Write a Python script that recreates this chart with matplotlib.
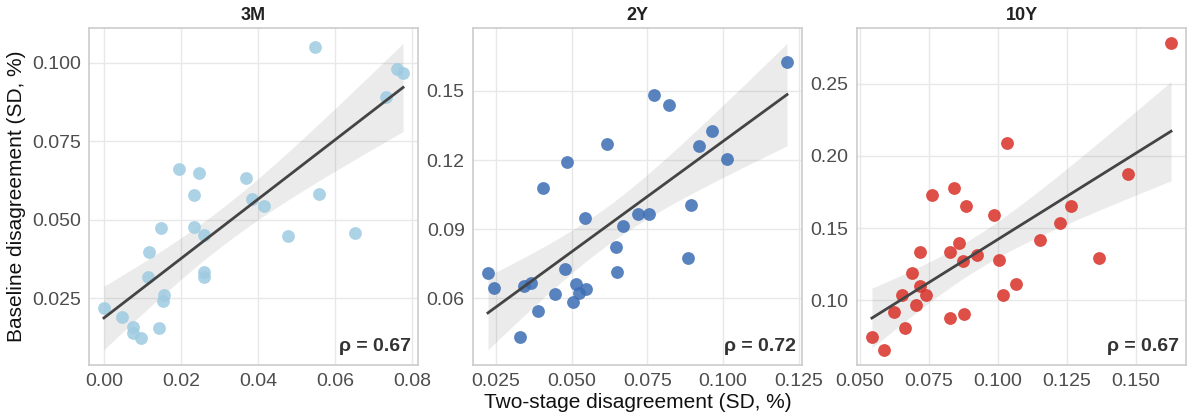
import numpy as np
import matplotlib.pyplot as plt
from matplotlib.ticker import MultipleLocator, FormatStrFormatter

# --- data ---
x_3m = [0.0000, 0.0048, 0.0075, 0.0075, 0.0097, 0.0118, 0.0115, 0.0147, 0.0144, 0.0156,
        0.0153, 0.0196, 0.0248, 0.0233, 0.0235, 0.0261, 0.0259, 0.0260, 0.0368, 0.0384,
        0.0415, 0.0478, 0.0547, 0.0559, 0.0651, 0.0732, 0.0760, 0.0777]
y_3m = [0.0220, 0.0191, 0.0157, 0.0138, 0.0125, 0.0398, 0.0319, 0.0473, 0.0156, 0.0260,
        0.0240, 0.0661, 0.0649, 0.0580, 0.0478, 0.0451, 0.0334, 0.0319, 0.0634, 0.0565,
        0.0545, 0.0450, 0.1050, 0.0583, 0.0457, 0.0891, 0.0982, 0.0969]

x_2y = [0.0224, 0.0243, 0.0331, 0.0344, 0.0365, 0.0389, 0.0406, 0.0445, 0.0478, 0.0484,
        0.0504, 0.0514, 0.0524, 0.0547, 0.0544, 0.0616, 0.0648, 0.0650, 0.0671, 0.0718,
        0.0756, 0.0772, 0.0821, 0.0885, 0.0893, 0.0921, 0.0962, 0.1014, 0.1211]
y_2y = [0.0709, 0.0645, 0.0434, 0.0652, 0.0665, 0.0545, 0.1077, 0.0619, 0.0728, 0.1191,
        0.0584, 0.0662, 0.0625, 0.0642, 0.0949, 0.1271, 0.0823, 0.0714, 0.0914, 0.0967,
        0.0967, 0.1480, 0.1440, 0.0774, 0.1003, 0.1261, 0.1327, 0.1206, 0.1625]

x_10y = [0.0545, 0.0588, 0.0625, 0.0655, 0.0666, 0.0690, 0.0703, 0.0719, 0.0719, 0.0740,
         0.0761, 0.0826, 0.0826, 0.0842, 0.0858, 0.0875, 0.0877, 0.0884, 0.0923, 0.0987,
         0.1005, 0.1020, 0.1034, 0.1064, 0.1153, 0.1223, 0.1263, 0.1364, 0.1472, 0.1626]
y_10y = [0.0745, 0.0657, 0.0915, 0.1039, 0.0807, 0.1191, 0.0968, 0.1331, 0.1099, 0.1039,
         0.1727, 0.1333, 0.0874, 0.1775, 0.1398, 0.1271, 0.0903, 0.1651, 0.1315, 0.1591,
         0.1278, 0.1035, 0.2090, 0.1110, 0.1416, 0.1533, 0.1656, 0.1290, 0.1872, 0.2781]

titles = ["3M", "2Y", "10Y"]
rho_labels = ["ρ = 0.67", "ρ = 0.72", "ρ = 0.67"]
colors = ["#9ecae1", "#3c6db4", "#d73027"]

plt.rcParams['font.family'] = ['Liberation Sans', 'DejaVu Sans']

fig = plt.figure(figsize=(11.89, 4.18), dpi=100)
lefts = [89, 473, 857]
panels = [(x_3m, y_3m), (x_2y, y_2y), (x_10y, y_10y)]
xsteps = [0.02, 0.025, 0.025]
ysteps = [0.025, 0.03, 0.05]
xfmt = ["%.2f", "%.3f", "%.3f"]
yfmt = ["%.3f", "%.2f", "%.2f"]

for i, (xs, ys) in enumerate(panels):
    ax = fig.add_axes([lefts[i] / 1189, 53 / 418, 329 / 1189, 337 / 418])
    x = np.array(xs)
    y = np.array(ys)

    # linear fit + 95% CI of the mean
    n = len(x)
    b, a = np.polyfit(x, y, 1)
    xg = np.linspace(x.min(), x.max(), 100)
    yg = a + b * xg
    resid = y - (a + b * x)
    s = np.sqrt(np.sum(resid ** 2) / (n - 2))
    se = s * np.sqrt(1 / n + (xg - x.mean()) ** 2 / np.sum((x - x.mean()) ** 2))
    t = 2.05
    ax.fill_between(xg, yg - t * se, yg + t * se, color="#444444", alpha=0.1, lw=0, zorder=1)
    ax.scatter(x, y, s=85, color=colors[i], alpha=0.85, lw=0, zorder=3)
    ax.plot(xg, yg, color="#444444", lw=2, zorder=4)

    ax.set_facecolor("white")
    ax.grid(True, color="#e8e8e8", lw=1, zorder=0)
    ax.set_axisbelow(True)
    for sp in ax.spines.values():
        sp.set_color("#cccccc")
        sp.set_linewidth(1.2)
    ax.xaxis.set_major_locator(MultipleLocator(xsteps[i]))
    ax.yaxis.set_major_locator(MultipleLocator(ysteps[i]))
    ax.xaxis.set_major_formatter(FormatStrFormatter(xfmt[i]))
    ax.yaxis.set_major_formatter(FormatStrFormatter(yfmt[i]))
    ax.tick_params(length=0, labelsize=14, labelcolor="#4d4d4d", pad=6)
    ax.set_title(titles[i], fontsize=13, fontweight="bold", color="#222222", pad=6)
    ax.text(0.98, 0.03, rho_labels[i], transform=ax.transAxes, ha="right", va="bottom",
            fontsize=14, fontweight="bold", color="#333333")
    if i == 0:
        ax.set_ylabel("Baseline disagreement (SD, %)", fontsize=15, color="#111111")
    if i == 1:
        ax.set_xlabel("Two-stage disagreement (SD, %)", fontsize=15, color="#111111", labelpad=2)

fig.savefig("out.png", dpi=100)
